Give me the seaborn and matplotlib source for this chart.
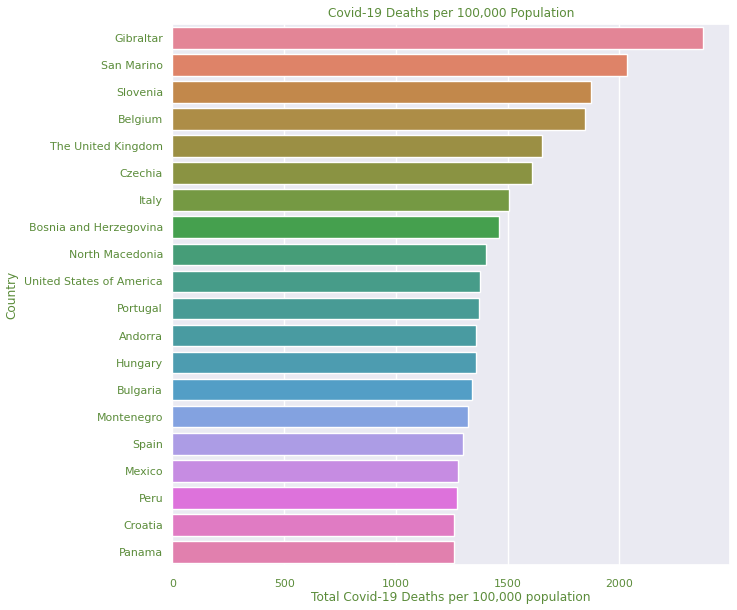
import pandas as pd
import matplotlib
matplotlib.use("Agg")
import matplotlib.pyplot as plt
import seaborn as sns

# valores
paises = ['Gibraltar', 'San Marino', 'Slovenia', 'Belgium', 'The United Kingdom',
          'Czechia', 'Italy', 'Bosnia and Herzegovina', 'North Macedonia',
          'United States of America', 'Portugal', 'Andorra', 'Hungary', 'Bulgaria',
          'Montenegro', 'Spain', 'Mexico', 'Peru', 'Croatia', 'Panama']
mortes_100k = [2376, 2032, 1871, 1844, 1652, 1611, 1505, 1460, 1401, 1375,
               1370, 1357, 1357, 1339, 1321, 1300, 1278, 1272, 1260, 1260]

df = pd.DataFrame({'Country': paises, 'Deaths': mortes_100k})

sns.set_theme(style='darkgrid')
cor_texto = '#5b8c3a'

fig, ax = plt.subplots(figsize=(7.37, 6.10), dpi=100)
sns.barplot(data=df, x='Deaths', y='Country', hue='Country', palette='husl',
            saturation=0.7, legend=False, edgecolor='white', linewidth=1, ax=ax)

ax.set_title('Covid-19 Deaths per 100,000 Population', color=cor_texto, fontsize=8.7, pad=5)
ax.set_xlabel('Total Covid-19 Deaths per 100,000 population', color=cor_texto, fontsize=8.7, labelpad=2)
ax.set_ylabel('Country', color=cor_texto, fontsize=8.7, labelpad=4)
ax.tick_params(axis='both', colors=cor_texto, labelsize=7.9)
ax.tick_params(axis='y', length=0, pad=6.8)

plt.subplots_adjust(left=0.234, right=0.9905, top=0.96, bottom=0.073)
plt.savefig('out.png', dpi=100)
